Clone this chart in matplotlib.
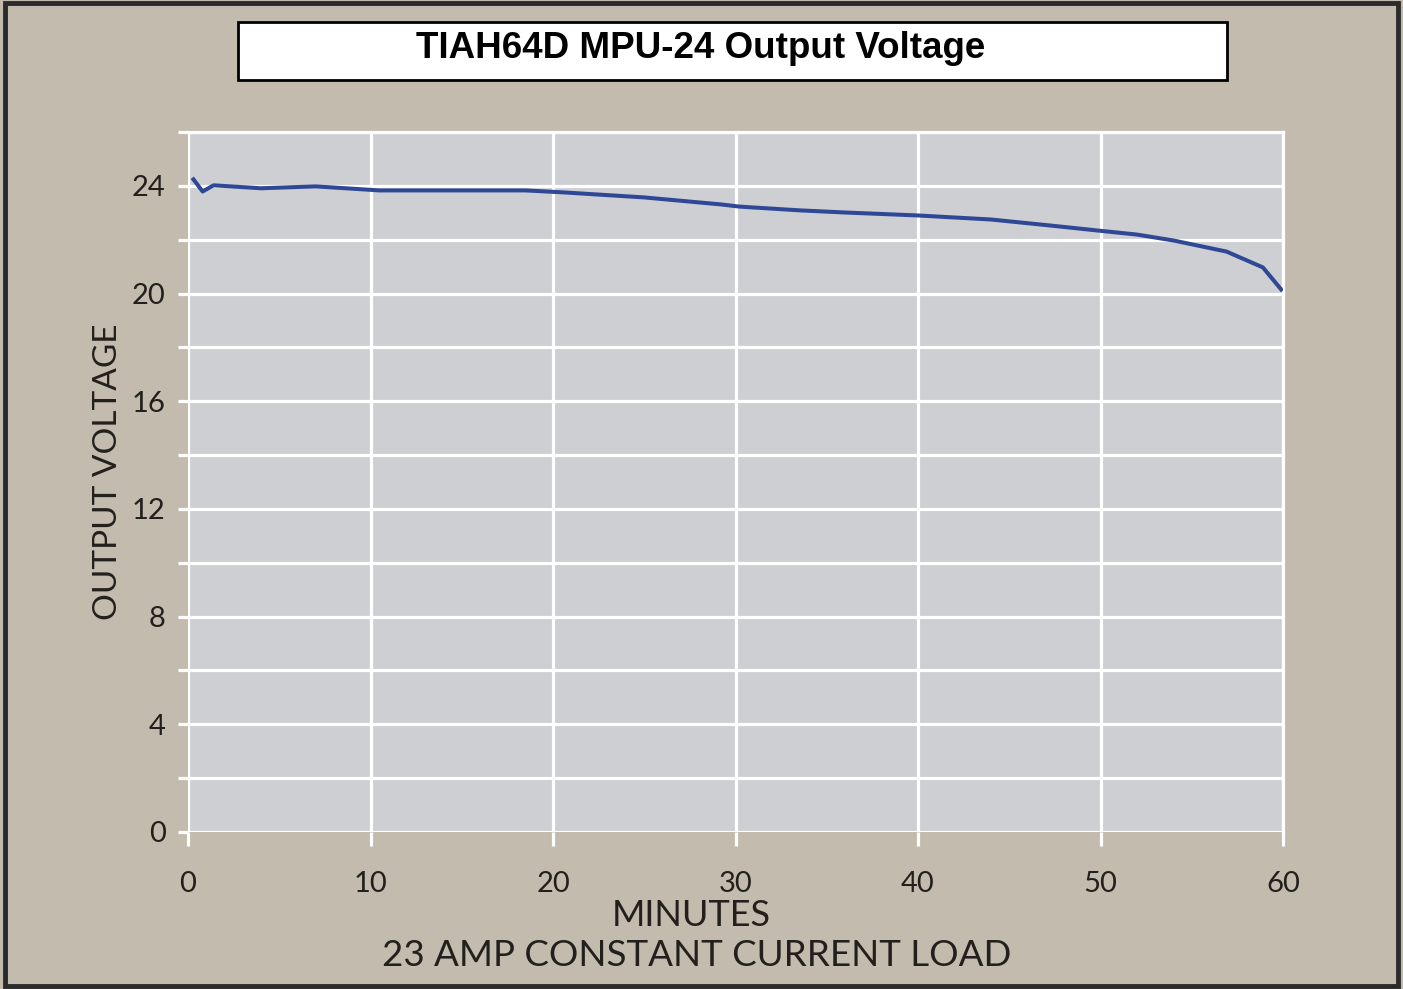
import matplotlib.pyplot as plt
from matplotlib.patches import Rectangle

# readings
minutes = [0.3, 0.8, 1.4, 4, 7, 10.5, 18.5, 20.5, 25, 29.2, 30.2, 33.5, 36, 40,
           44, 47.2, 50, 52, 54, 56.9, 58.9, 59.9]
volts = [24.24, 23.79, 24.02, 23.91, 23.98, 23.83, 23.83, 23.76, 23.57, 23.31, 23.23,
         23.09, 23.01, 22.9, 22.75, 22.53, 22.33, 22.19, 21.97, 21.56, 20.97, 20.15]
x_ticks = [0, 10, 20, 30, 40, 50, 60]
y_ticks = [0, 4, 8, 12, 16, 20, 24]
y_minor = [2, 6, 10, 14, 18, 22, 26]

bg = "#c3bcae"
panel = "#cdcfd3"
txt = "#231f1c"
font = "Lato"

fig = plt.figure(figsize=(14.03, 9.89), dpi=100, facecolor=bg)
W, H = 1403, 989

# dark frame round the whole picture
fig.patches.append(Rectangle((5 / W, 3 / H), 1393 / W, 983 / H, transform=fig.transFigure,
                             fill=False, edgecolor="#2b2b2b", linewidth=3.5))

ax = fig.add_axes([188 / W, 1 - 832 / H, (1283 - 188) / W, (832 - 132) / H])
ax.set_facecolor(panel)
ax.plot(minutes, volts, color="#2f4896", linewidth=2.9, zorder=3)
ax.set_xlim(0, 60)
ax.set_ylim(0, 26)

ax.set_xticks(x_ticks)
ax.set_yticks(y_ticks)
ax.set_yticks(y_minor, minor=True)
ax.grid(True, which="both", color="white", linewidth=2.3)
ax.grid(False, axis="x", which="minor")
ax.set_axisbelow(True)
for s in ax.spines.values():
    s.set_color("white")
    s.set_linewidth(2.3)
ax.spines["left"].set_visible(False)
ax.spines["bottom"].set_visible(False)

ax.tick_params(axis="both", which="both", color="white", width=2.3, length=7,
               labelcolor=txt, labelsize=21)
ax.tick_params(axis="y", which="major", pad=9)
ax.tick_params(axis="x", which="major", pad=18, length=10)
for lab in ax.get_xticklabels() + ax.get_yticklabels():
    lab.set_family(font)

fig.text(108 / W, 1 - 472 / H, "OUTPUT VOLTAGE", rotation=90, ha="center", va="center",
         fontsize=24, color=txt, family=font)
fig.text(691 / W, 1 - 915 / H, "MINUTES", ha="center", va="center",
         fontsize=26, color=txt, family=font)
fig.text(697 / W, 1 - 955 / H, "23 AMP CONSTANT CURRENT LOAD", ha="center", va="center",
         fontsize=26.5, color=txt, family=font)

# title box
fig.patches.append(Rectangle((238 / W, 1 - 80 / H), (1227 - 238) / W, 58 / H,
                             transform=fig.transFigure, facecolor="white",
                             edgecolor="black", linewidth=2))
fig.text(701 / W, 1 - 48 / H, "TIAH64D MPU-24 Output Voltage", ha="center", va="center",
         fontsize=26.5, fontweight="bold", color="black", family="Liberation Sans")

fig.savefig("out.png", dpi=100, facecolor=bg)
